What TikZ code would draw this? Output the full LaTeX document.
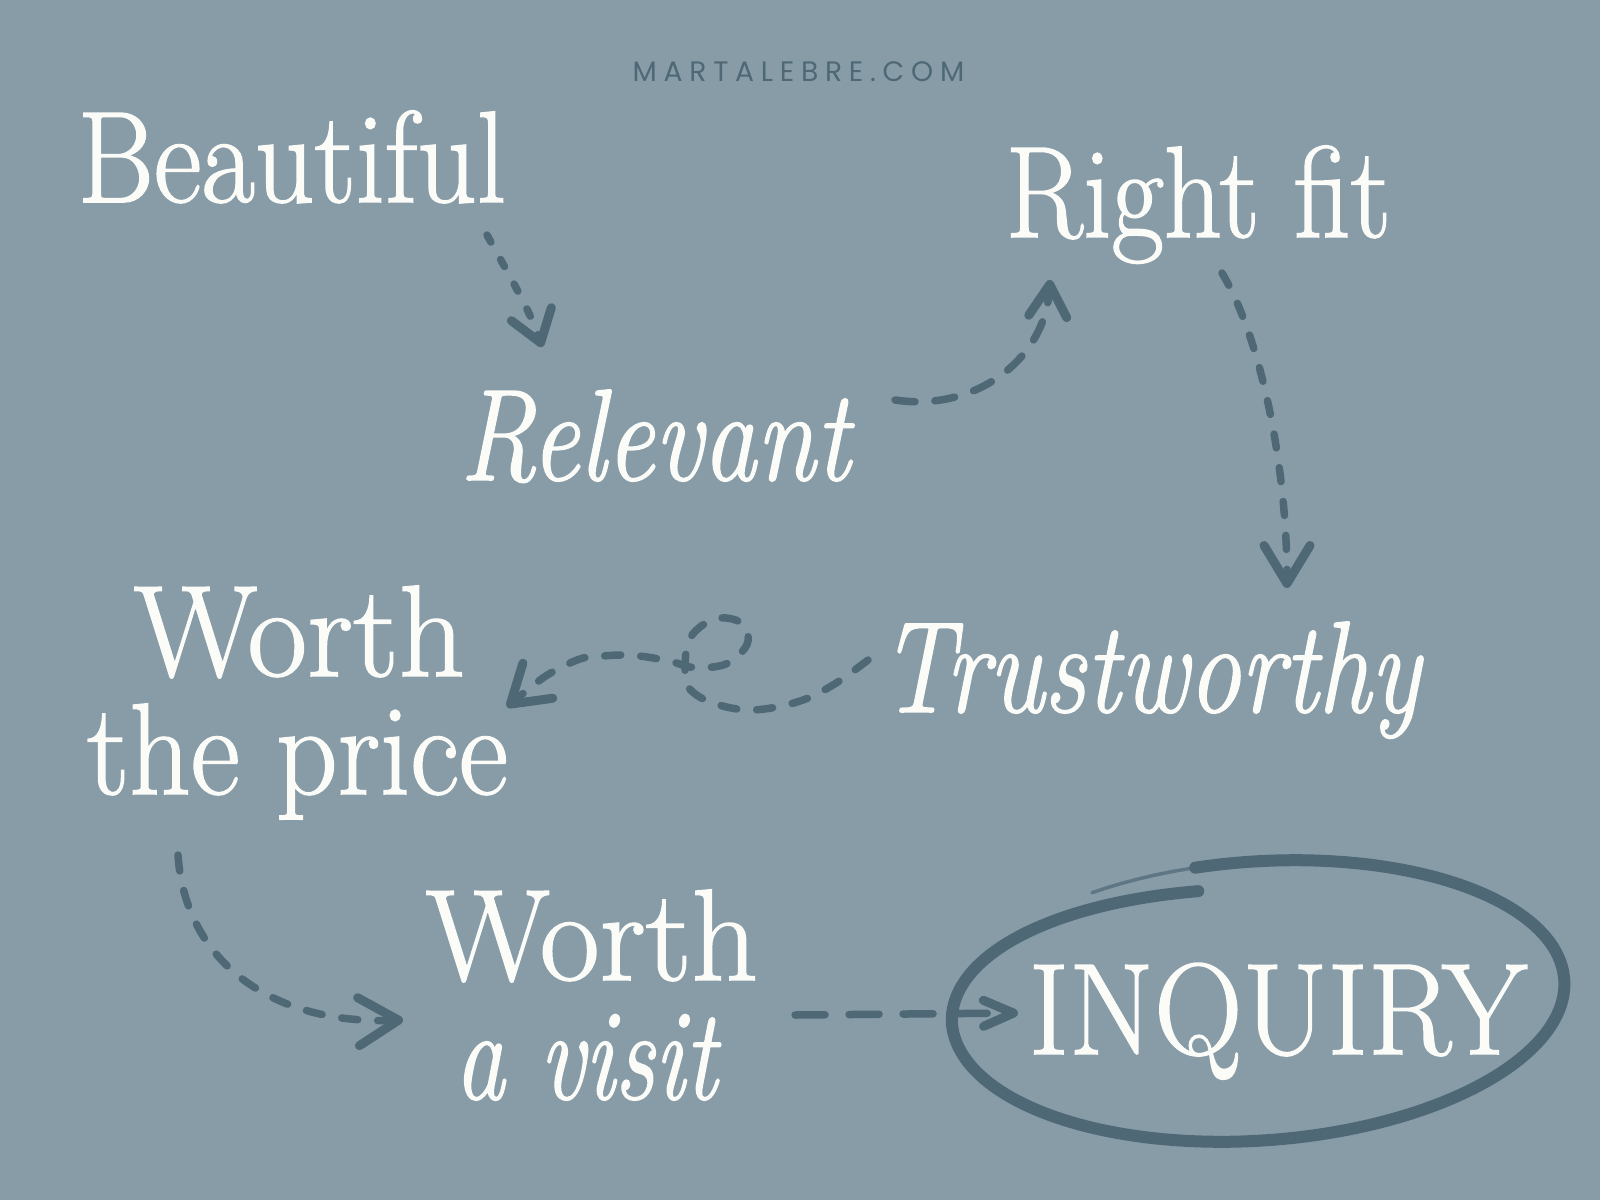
\documentclass[tikz,border=0pt]{standalone}
\usepackage{fontspec}
\usepackage{graphicx}
\newfontfamily\sitefont[LetterSpace=24]{Poppins}
\newfontfamily\wordfont[FakeBold=1.2]{Latin Modern Roman}
\usetikzlibrary{arrows.meta}
\definecolor{bg}{HTML}{889CA8}
\definecolor{ink}{HTML}{4E6876}
\definecolor{paper}{HTML}{FBFBF8}
\newcommand\fitword[2]{\resizebox{#1}{\height}{\wordfont\fontsize{37}{40}\selectfont #2}}
\tikzset{
  word/.style={anchor=base west, inner sep=0pt, text=paper},
  conn/.style={draw=ink, line width=0.075cm, line cap=round, dash pattern=on 0.16cm off 0.2cm},
  barb/.style 2 args={-{Straight Barb[length=#1, width=#2, line width=0.09cm, round]}},
  brush/.style={draw=ink, line width=0.12cm, line cap=round, line join=round}
}
\begin{document}
\begin{tikzpicture}[x=0.01cm,y=-0.01cm]
\fill[bg] (0,0) rectangle (1600,1200);
\useasboundingbox (0,0) rectangle (1600,1200);

% heading
\node[word, text=ink] (site) at (632,81) {\sitefont\fontsize{8}{10}\selectfont MARTALEBRE.COM};

% words
\node[word] (beautiful) at (77,202) {\fitword{4.28cm}{Beautiful}};
\node[word] (rightfit) at (1005,237) {\fitword{3.85cm}{Right fit}};
\node[word] (relevant) at (459,480) {\fitword{3.90cm}{\itshape Relevant}};
\node[word] (worth1) at (133,676) {\fitword{3.31cm}{Worth}};
\node[word] (price) at (86,794) {\fitword{4.21cm}{the price}};
\node[word] (trust) at (879,712) {\fitword{5.40cm}{\itshape Trustworthy}};
\node[word] (worth2) at (425,980) {\fitword{3.32cm}{Worth}};
\node[word] (visit) at (454,1099) {\fitword{2.62cm}{\itshape a visit}};
\node[word] (inquiry) at (1028,1054) {\fitword{4.98cm}{INQUIRY}};

% connector end points
\coordinate (a1s) at (487,235);  \coordinate (a1e) at (542,347);
\coordinate (a2s) at (895,400);  \coordinate (a2e) at (1050,280);
\coordinate (a3s) at (1222,273); \coordinate (a3e) at (1287,588);
\coordinate (a4s) at (868,660);  \coordinate (a4e) at (507,707);
\coordinate (a5s) at (178,855);  \coordinate (a5e) at (403,1020);
\coordinate (a6s) at (795,1015); \coordinate (a6e) at (1018,1013);

% ellipse around INQUIRY
\draw[brush, line width=0.035cm, opacity=0.7]
  plot[domain=121:100, samples=20, variable=\t]
  ({1258 + 307*cos(\t)*0.9976 - 139.5*sin(\t)*0.0698},
   {1001 - (307*cos(\t)*0.0698 + 139.5*sin(\t)*0.9976)});
\draw[brush]
  plot[domain=100:-260, samples=180, variable=\t]
  ({1258 + (307-8*max(0,(-180-\t)/80))*cos(\t)*0.9976 - (139.5-24*max(0,(-180-\t)/80))*sin(\t)*0.0698},
   {1001 - ((307-8*max(0,(-180-\t)/80))*cos(\t)*0.0698 + (139.5-24*max(0,(-180-\t)/80))*sin(\t)*0.9976)});

% connectors
\draw[conn, dash pattern=on 0.08cm off 0.2cm, barb={0.3cm}{0.42cm}]
  (a1s) .. controls (505,268) and (530,310) .. (a1e);
\draw[conn, dash pattern=on 0.2cm off 0.2cm, barb={0.32cm}{0.38cm}]
  (a2s) .. controls (975,412) and (1045,360) .. (a2e);
\draw[conn, dash pattern=on 0.14cm off 0.2cm, barb={0.38cm}{0.46cm}]
  (a3s) .. controls (1262,340) and (1287,470) .. (a3e);
\draw[conn, dash pattern=on 0.16cm off 0.2cm, barb={0.36cm}{0.46cm}]
  plot[smooth, tension=0.6] coordinates {(a4s) (833,685) (797,702) (750,710) (710,702) (688,687) (685,670) (688,643) (700,627) (720,618) (740,622) (748,635) (745,648) (730,662) (713,667) (690,667) (673,662) (647,657) (623,655) (603,656) (583,658) (562,667) (540,680) (a4e)};
\draw[conn, dash pattern=on 0.16cm off 0.2cm, barb={0.4cm}{0.48cm}]
  (a5s) .. controls (185,960) and (270,1025) .. (a5e);
\draw[conn, dash pattern=on 0.3cm off 0.24cm, barb={0.3cm}{0.26cm}]
  (a6s) -- (a6e);
\end{tikzpicture}
\end{document}
